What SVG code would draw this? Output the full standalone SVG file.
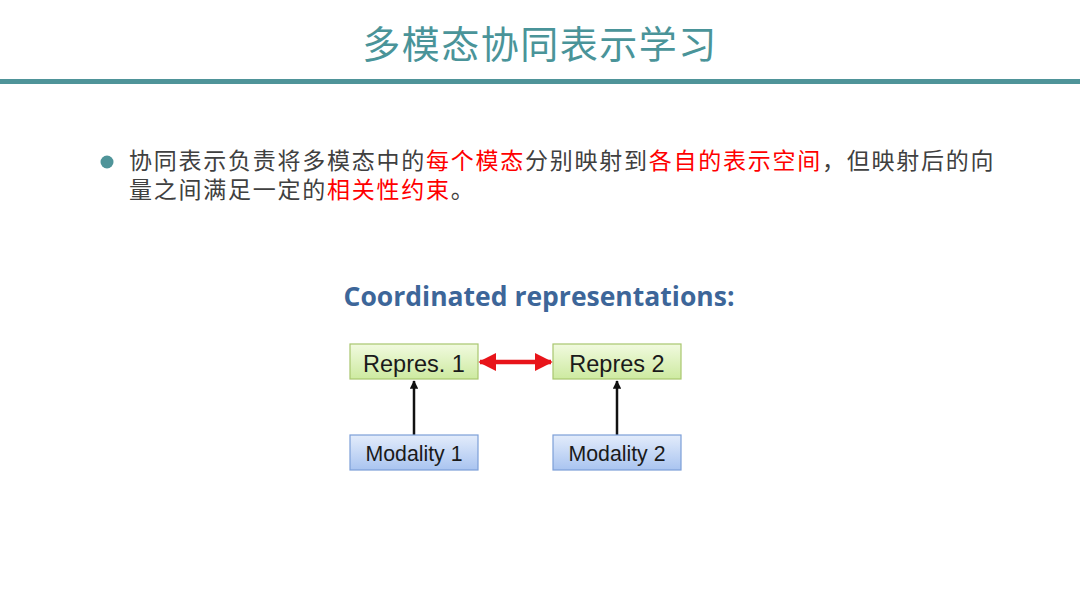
<svg xmlns="http://www.w3.org/2000/svg" width="1080" height="608" viewBox="0 0 1080 608">
<defs>
<linearGradient id="gG" x1="0" y1="0" x2="0" y2="1"><stop offset="0" stop-color="#f1fadf"/><stop offset="1" stop-color="#cdeaa0"/></linearGradient>
<linearGradient id="gB" x1="0" y1="0" x2="0" y2="1"><stop offset="0" stop-color="#e3ecfb"/><stop offset="1" stop-color="#a9c4f0"/></linearGradient>
<marker id="ab" viewBox="0 0 10 10" refX="9" refY="5" markerWidth="3.4" markerHeight="3.4" orient="auto-start-reverse"><path d="M0,0 L10,5 L0,10 z" fill="#111"/></marker>
<marker id="ar" viewBox="0 0 10 10" refX="9" refY="5" markerWidth="4" markerHeight="4" orient="auto-start-reverse"><path d="M0,0 L10,5 L0,10 z" fill="#e8141a"/></marker>
</defs>
<style>
.cjk{font-family:"Noto Sans CJK SC","Noto Sans",sans-serif}
.body{font-size:23px;letter-spacing:1.75px;fill:#404040}
.red{fill:#ff0000}
.box text{font-family:"Liberation Sans",Arial,sans-serif;fill:#1a1a1a;text-anchor:middle}
.g{fill:url(#gG);stroke:#a8c66e;stroke-width:1.2}
.b{fill:url(#gB);stroke:#7c9fd8;stroke-width:1.2}
</style>
<rect width="1080" height="608" fill="#ffffff"/>
<text x="540" y="58" class="cjk" font-size="38" fill="#4a9499" text-anchor="middle" letter-spacing="1.5">多模态协同表示学习</text>
<rect x="0" y="79" width="1080" height="5" fill="#4f9499"/>
<circle cx="107" cy="162" r="6.5" fill="#4f9499"/>
<text class="cjk body" x="129" y="169">协同表示负责将多模态中的</text>
<text class="cjk body red" x="426" y="169">每个模态</text>
<text class="cjk body" x="525" y="169">分别映射到</text>
<text class="cjk body red" x="648.75" y="169">各自的表示空间</text>
<text class="cjk body" x="822" y="169">，但映射后的向</text>
<text class="cjk body" x="129" y="198">量之间满足一定的</text>
<text class="cjk body red" x="327" y="198">相关性约束</text>
<text class="cjk body" x="450.75" y="198">。</text>
<text x="539" y="306" font-family="Open Sans, 'Liberation Sans', sans-serif" font-weight="bold" font-size="26.5" fill="#3d6699" text-anchor="middle">Coordinated representations:</text>
<g id="connectors">
<line x1="414" y1="435" x2="414" y2="381" stroke="#111" stroke-width="2.5" marker-end="url(#ab)"/>
<line x1="617" y1="435" x2="617" y2="381" stroke="#111" stroke-width="2.5" marker-end="url(#ab)"/>
<line x1="480" y1="362" x2="551" y2="362" stroke="#e8141a" stroke-width="4.5" marker-start="url(#ar)" marker-end="url(#ar)"/>
</g>
<g id="repres1" class="box"><rect class="g" x="350" y="344" width="128" height="35"/><text x="414" y="372" font-size="23.5">Repres. 1</text></g>
<g id="repres2" class="box"><rect class="g" x="553" y="344" width="128" height="35"/><text x="617" y="372" font-size="23.5">Repres 2</text></g>
<g id="modality1" class="box"><rect class="b" x="350" y="435" width="128" height="35"/><text x="414" y="461" font-size="21.3">Modality 1</text></g>
<g id="modality2" class="box"><rect class="b" x="553" y="435" width="128" height="35"/><text x="617" y="461" font-size="21.3">Modality 2</text></g>
</svg>
